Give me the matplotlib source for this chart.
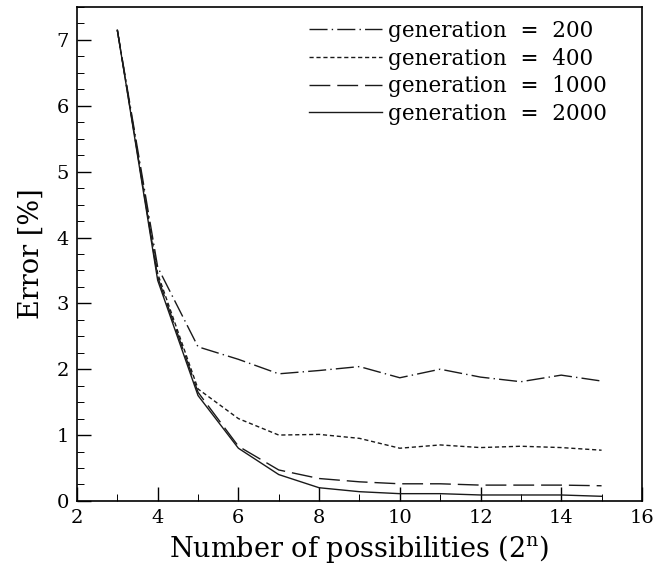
import matplotlib
matplotlib.use("Agg")
import matplotlib.pyplot as plt
from matplotlib.ticker import MultipleLocator

plt.rcParams['font.family'] = ['DejaVu Serif']
plt.rcParams['mathtext.fontset'] = 'dejavuserif'

n_bits = [3, 4, 5, 6, 7, 8, 9, 10, 11, 12, 13, 14, 15]
err_gen200 = [7.15, 3.55, 2.34, 2.15, 1.93, 1.98, 2.04, 1.87, 2.00, 1.88, 1.81, 1.91, 1.82]
err_gen400 = [7.15, 3.45, 1.70, 1.25, 1.00, 1.01, 0.95, 0.80, 0.85, 0.81, 0.83, 0.81, 0.77]
err_gen1000 = [7.15, 3.40, 1.65, 0.83, 0.47, 0.34, 0.29, 0.26, 0.26, 0.24, 0.24, 0.24, 0.23]
err_gen2000 = [7.15, 3.35, 1.60, 0.80, 0.40, 0.20, 0.14, 0.11, 0.11, 0.09, 0.09, 0.09, 0.07]
labels = ["generation  =  200", "generation  =  400",
          "generation  =  1000", "generation  =  2000"]

fig = plt.figure(figsize=(6.67, 5.66), dpi=100)
ax = fig.add_axes([0.1154, 0.115, 0.847, 0.8726])

col = '#1a1a1a'
ax.plot(n_bits, err_gen200, color=col, lw=1.0, dashes=(13, 3, 1, 3), label=labels[0])
ax.plot(n_bits, err_gen400, color=col, lw=1.0, dashes=(3, 2), label=labels[1])
ax.plot(n_bits, err_gen1000, color=col, lw=1.0, dashes=(15, 5), label=labels[2])
ax.plot(n_bits, err_gen2000, color=col, lw=1.0, label=labels[3])

ax.set_xlim(2, 16)
ax.set_ylim(0, 7.5)
ax.xaxis.set_major_locator(MultipleLocator(2))
ax.xaxis.set_minor_locator(MultipleLocator(1))
ax.yaxis.set_major_locator(MultipleLocator(1))
ax.yaxis.set_minor_locator(MultipleLocator(0.25))
ax.tick_params(which='both', direction='in', top=False, right=False, labelsize=14)
ax.tick_params(which='major', length=10, width=1, pad=6)
ax.tick_params(which='minor', length=5, width=0.7)
for s in ax.spines.values():
    s.set_linewidth(1.2)

ax.set_xlabel(r"Number of possibilities (2$^{\mathrm{n}}$)", fontsize=19.5, labelpad=4)
ax.set_ylabel("Error [%]", fontsize=19.5, labelpad=8)

ax.legend(loc='upper right', frameon=False, fontsize=15.5, handlelength=3.4,
          handletextpad=0.25, labelspacing=0.26, borderaxespad=0.2,
          bbox_to_anchor=(0.96, 1.0))

fig.savefig("out.png", dpi=100)
